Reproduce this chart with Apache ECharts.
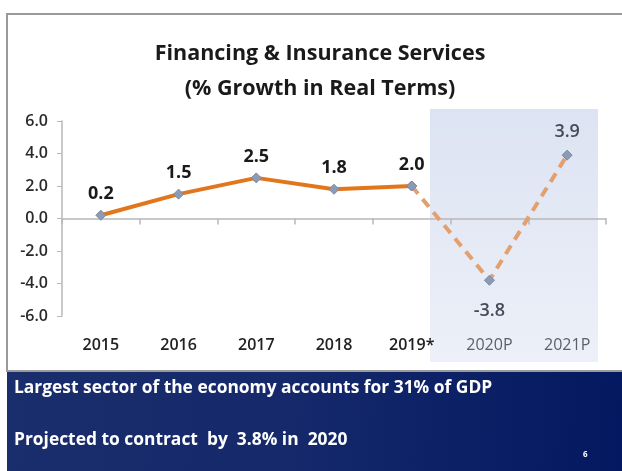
<!DOCTYPE html>
<html>
<head>
<meta charset="utf-8">
<script src="https://cdn.jsdelivr.net/npm/echarts@6/dist/echarts.min.js"></script>
<style>
  html, body { margin: 0; padding: 0; background: #ffffff; }
  #chart { width: 622px; height: 471px; }
</style>
</head>
<body>
<div id="chart"></div>
<script>
// Financing & Insurance Services, % growth in real terms
const years = ['2015', '2016', '2017', '2018', '2019*', '2020P', '2021P'];
const growth = [0.2, 1.5, 2.5, 1.8, 2.0, -3.8, 3.9];
const projectedFrom = 4; // index of last actual year (2019*), dashed line starts here
const yTicks = { min: -6, max: 6, step: 2 };
const titleLines = ['Financing & Insurance Services', '(% Growth in Real Terms)'];
const notes = ['Largest sector of the economy accounts for 31% of GDP', 'Projected to contract  by  3.8% in  2020'];
const pageNo = '6';

const FONT = '"Open Sans", "Noto Sans", sans-serif';

const actual = growth.map((v, i) => (i <= projectedFrom ? v : null));
// projection labels: below for a contraction, above for growth
const projected = growth.map((v, i) => {
  if (i < projectedFrom) return null;
  if (i > projectedFrom && v < 0) return { value: v, label: { position: 'bottom', distance: 16 } };
  return v;
});

const chart = echarts.init(document.getElementById('chart'), null, { renderer: 'canvas' });

chart.setOption({
  animation: false,
  backgroundColor: '#ffffff',
  title: {
    text: titleLines.join('\n'),
    left: 315,
    textAlign: 'center',
    top: 31,
    textStyle: { fontFamily: FONT, fontSize: 21.5, fontWeight: 'bold', color: '#1a1a1a', lineHeight: 35 }
  },
  grid: { left: 62, right: 16, top: 121, bottom: 155 },
  graphic: [
    // white panel frame
    { type: 'rect', z: -10, shape: { x: 7, y: 14, width: 630, height: 357 },
      style: { fill: '#ffffff', stroke: '#9a9a9a', lineWidth: 2 } },
    // shaded projection panel
    { type: 'rect', z: -5, shape: { x: 430, y: 109, width: 168, height: 253 },
      style: { fill: new echarts.graphic.LinearGradient(0, 0, 0, 1, [
        { offset: 0, color: '#dce3f2' }, { offset: 1, color: '#edf0f8' }]) } },
    // bottom band
    { type: 'rect', z: -10, shape: { x: 7, y: 372, width: 620, height: 100 },
      style: { fill: new echarts.graphic.LinearGradient(0, 0, 1, 0.3, [
        { offset: 0, color: '#1a2d6c' }, { offset: 0.45, color: '#15296b' }, { offset: 1, color: '#031860' }]) } },
    { type: 'text', left: 14, top: 380,
      style: { text: notes[0], fill: '#ffffff', font: 'bold 17.4px ' + FONT } },
    { type: 'text', left: 14, top: 432,
      style: { text: notes[1], fill: '#ffffff', font: 'bold 17.4px ' + FONT } },
    { type: 'text', left: 583, top: 451,
      style: { text: pageNo, fill: '#ffffff', font: 'bold 8px ' + FONT } }
  ],
  xAxis: [
    {
      type: 'category', data: years, boundaryGap: true,
      axisLine: { onZero: true, lineStyle: { color: '#b8b8b8', width: 1.5 } },
      axisTick: { show: true, length: 6, lineStyle: { color: '#b8b8b8', width: 1.5 } },
      axisLabel: { show: false }
    },
    {
      type: 'category', data: years, boundaryGap: true, position: 'bottom',
      axisLine: { show: false, onZero: false }, axisTick: { show: false },
      axisLabel: {
        interval: 0, margin: 21,
        formatter: (v, i) => (i > projectedFrom ? '{p|' + v + '}' : '{a|' + v + '}'),
        rich: {
          a: { fontFamily: FONT, fontSize: 16, fontWeight: 600, color: '#222222' },
          p: { fontFamily: FONT, fontSize: 16, fontWeight: 'normal', color: '#5a5f6a' }
        }
      }
    }
  ],
  yAxis: {
    type: 'value', min: yTicks.min, max: yTicks.max, interval: yTicks.step,
    axisLine: { show: true, lineStyle: { color: '#b8b8b8', width: 1.5 } },
    axisTick: { show: true, length: 5, lineStyle: { color: '#b8b8b8' } },
    splitLine: { show: false },
    axisLabel: { margin: 14, fontFamily: FONT, fontSize: 16, fontWeight: 600, color: '#2a2a2a',
      formatter: v => v.toFixed(1) }
  },
  series: [
    {
      type: 'line', data: actual, xAxisIndex: 0, z: 3,
      lineStyle: { color: '#e2761c', width: 4 },
      symbol: 'diamond', symbolSize: 10,
      itemStyle: { color: '#8c9bb3', borderColor: '#7a8aa5', borderWidth: 1 },
      label: { show: true, position: 'top', distance: 7, formatter: p => p.value.toFixed(1),
        fontFamily: FONT, fontSize: 18, fontWeight: 'bold', color: '#1a1a1a' }
    },
    {
      type: 'line', data: projected, xAxisIndex: 0, z: 2,
      lineStyle: { color: '#e3a06e', width: 4, type: [10, 7] },
      symbol: 'diamond', symbolSize: 10,
      itemStyle: { color: '#8c9bb3', borderColor: '#7a8aa5', borderWidth: 1 },
      label: {
        show: true, fontFamily: FONT, fontSize: 18, fontWeight: 600, color: '#454b58',
        formatter: p => (p.dataIndex > projectedFrom ? Number(p.value).toFixed(1) : ''),
        position: 'top', distance: 9
      }
    }
  ]
});
</script>
</body>
</html>
